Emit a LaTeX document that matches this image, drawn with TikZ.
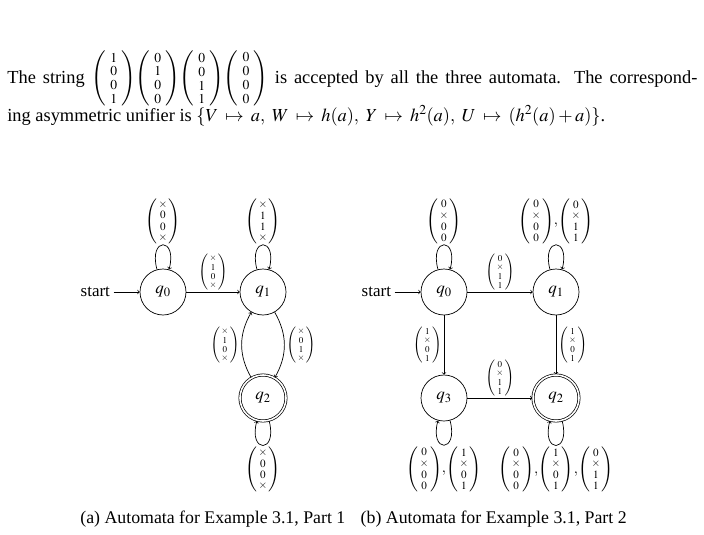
\documentclass[tikz,border=0pt]{standalone}
\usepackage{amsmath}
\usepackage{mathptmx}
\usepackage{fontspec}
\setmainfont{Liberation Serif}
\usetikzlibrary{automata}
\newcommand{\cv}[4]{\left(\begin{smallmatrix}#1\\[.25ex]#2\\[.25ex]#3\\[.25ex]#4\end{smallmatrix}\right)}
\newcommand{\tcv}[4]{\left(\,\begin{smallmatrix}#1\\[.3ex]#2\\[.3ex]#3\\[.3ex]#4\end{smallmatrix}\,\right)}
\newcommand{\cm}{\mskip-2mu,\mskip-2mu}
\begin{document}
\begin{tikzpicture}[x=1pt,y=1pt, line width=0.7pt, >=to,
  every state/.style={minimum size=46pt, inner sep=0pt, line width=0.7pt},
  accepting by double/.append style={double distance=1.6pt},
  initial distance=26pt,
  every loop/.style={distance=34pt},
  figtext/.style={font=\fontsize{17}{20}\selectfont},
  biglab/.style={font=\fontsize{15}{18}\selectfont, inner sep=1pt},
  smalllab/.style={font=\fontsize{12}{14}\selectfont, inner sep=2pt},
  bodytext/.style={font=\fontsize{18.4}{22}\selectfont, inner sep=0pt, anchor=base west},
  captext/.style={font=\fontsize{17.8}{21}\selectfont, inner sep=0pt}]
\useasboundingbox (0,0) rectangle (704,-535);

\node[bodytext] (l1) at (7,-83) {\makebox[690pt][s]{The string $\tcv1001\!\tcv0100\!\tcv0011\!\tcv0000$ is accepted by all the three automata. The correspond-}};
\node[bodytext] (l2) at (7,-121) {ing asymmetric unifier is $\thickmuskip=7mu plus 2mu\relax \{V\mapsto a,\ W\mapsto h(a),\ Y\mapsto h^2(a),\ U\mapsto (h^2(a)+a)\}$.};

\begin{scope}[figtext]
% (a)
\node[state, initial, initial text=start] (a0) at (163,-292) {$q_0$};
\node[state] (a1) at (263,-292) {$q_1$};
\node[state, accepting] (a2) at (263,-398) {$q_2$};
\path[->]
  (a0) edge node[above, smalllab] {$\cv{\times}10{\times}$} (a1)
  (a0) edge[loop above] node[above, biglab] {$\cv{\times}00{\times}$} (a0)
  (a1) edge[loop above] node[above, biglab] {$\cv{\times}11{\times}$} (a1)
  (a1) edge[bend left=30] node[right, smalllab] {$\cv{\times}01{\times}$} (a2)
  (a2) edge[bend left=30] node[left, smalllab] {$\cv{\times}10{\times}$} (a1)
  (a2) edge[loop below] node[below, biglab] {$\cv{\times}00{\times}$} (a2);
% (b)
\node[state, initial, initial text=start] (b0) at (444,-292) {$q_0$};
\node[state] (b1) at (556,-292) {$q_1$};
\node[state] (b3) at (444,-398) {$q_3$};
\node[state, accepting] (b2) at (556,-398) {$q_2$};
\path[->]
  (b0) edge node[above, smalllab] {$\cv0{\times}11$} (b1)
  (b0) edge[loop above] node[above, biglab] {$\cv0{\times}00$} (b0)
  (b1) edge[loop above] node[above, biglab] {$\cv0{\times}00\cm\cv0{\times}11$} (b1)
  (b0) edge node[left, smalllab] {$\cv1{\times}01$} (b3)
  (b1) edge node[right, smalllab] {$\cv1{\times}01$} (b2)
  (b3) edge node[above, smalllab] {$\cv0{\times}11$} (b2)
  (b3) edge[loop below] node[below, biglab] {$\cv0{\times}00\cm\cv1{\times}01$} (b3)
  (b2) edge[loop below] node[below, biglab] {$\cv0{\times}00\cm\cv1{\times}01\cm\cv0{\times}11$} (b2);
\end{scope}

\node[captext, anchor=base west] (capa) at (80,-523) {(a) Automata for Example 3.1, Part 1};
\node[captext, anchor=base east] (capb) at (627,-523) {(b) Automata for Example 3.1, Part 2};
\end{tikzpicture}
\end{document}
